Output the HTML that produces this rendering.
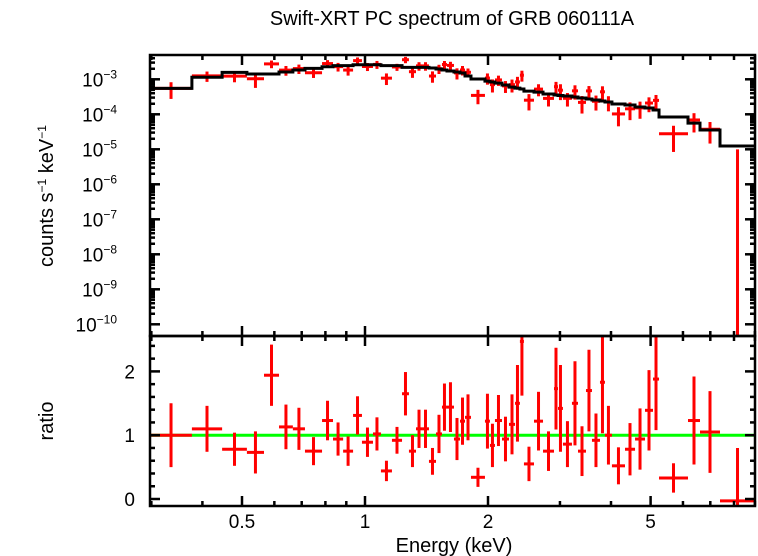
<!DOCTYPE html>
<html><head><meta charset="utf-8"><style>
html,body{margin:0;padding:0;background:#fff;}
svg{display:block;font-family:"Liberation Sans",sans-serif;}
</style></head><body>
<svg id="chart" width="758" height="556" viewBox="0 0 758 556" xmlns="http://www.w3.org/2000/svg">
<defs>
<clipPath id="clipTop"><rect x="150" y="55" width="605" height="281"/></clipPath>
<clipPath id="clipBot"><rect x="150" y="336" width="605" height="170"/></clipPath>
</defs>
<text x="452" y="25" font-size="20" text-anchor="middle">Swift-XRT PC spectrum of GRB 060111A</text>
<text x="454" y="552" font-size="20" text-anchor="middle">Energy (keV)</text>
<text transform="translate(53,196) rotate(-90)" font-size="20" text-anchor="middle">counts s<tspan dy="-7" font-size="12">−1</tspan><tspan dy="7"> keV</tspan><tspan dy="-7" font-size="12">−1</tspan></text>
<text transform="translate(53,421) rotate(-90)" font-size="20" text-anchor="middle">ratio</text>
<g id="gTop"></g>
<g id="gBot"></g>
<g id="gAxes"></g>
</svg>
<script>
const binEdges = [0.298,0.377,0.447,0.514,0.566,0.616,0.666,0.713,0.785,0.835,0.884,0.935,0.983,1.046,1.094,1.164,1.232,1.281,1.333,1.379,1.434,1.492,1.543,1.587,1.651,1.708,1.757,1.817,1.966,2.022,2.080,2.164,2.251,2.329,2.394,2.449,2.592,2.727,2.901,2.967,3.051,3.210,3.321,3.474,3.593,3.759,3.866,4.021,4.328,4.580,4.845,5.068,5.243,6.173,6.605,7.393,9.006];
const modelValues = [5.5e-4,1.14e-3,1.58e-3,1.42e-3,1.42e-3,1.62e-3,1.84e-3,2.06e-3,2.29e-3,2.45e-3,2.45e-3,2.61e-3,2.61e-3,2.61e-3,2.45e-3,2.45e-3,2.2e-3,2.2e-3,2.2e-3,2.2e-3,2.1e-3,1.97e-3,1.84e-3,1.73e-3,1.62e-3,1.51e-3,1.24e-3,1.02e-3,8.9e-4,8.4e-4,7.8e-4,6.9e-4,6.0e-4,5.6e-4,5.3e-4,4.6e-4,4.3e-4,3.8e-4,3.56e-4,3.44e-4,3.33e-4,3.12e-4,2.92e-4,2.74e-4,2.56e-4,2.4e-4,2.25e-4,1.97e-4,1.84e-4,1.62e-4,1.51e-4,1.33e-4,8.4e-5,5.6e-5,3.56e-5,1.24e-5];
const ratioValues = [1.0,1.1,0.78,0.73,1.94,1.13,1.1,0.75,1.23,0.94,0.75,1.31,0.89,1.02,0.44,0.92,1.65,0.75,1.1,1.1,0.59,1.02,1.44,1.44,0.94,1.22,1.28,0.34,1.22,0.84,1.23,0.94,1.17,1.5,2.47,0.55,1.22,0.75,1.73,1.42,0.86,1.5,0.75,1.7,0.92,1.83,1.0,0.52,0.78,0.94,1.39,1.88,0.33,1.23,1.05,-0.03];
const ratioErrors = [0.5,0.36,0.26,0.33,0.48,0.35,0.33,0.22,0.31,0.26,0.23,0.3,0.23,0.26,0.16,0.21,0.34,0.25,0.3,0.3,0.21,0.3,0.37,0.39,0.33,0.37,0.36,0.15,0.43,0.34,0.4,0.35,0.47,0.6,0.85,0.27,0.46,0.31,0.64,0.68,0.36,0.66,0.39,0.64,0.42,0.8,0.46,0.29,0.41,0.48,0.63,0.8,0.23,0.69,0.64,0.83];
const xMajorTicks = [0.5,1,2,5];
const xMajorLabels = ["0.5","1","2","5"];
const xMinorTicks = [0.3,0.4,0.6,0.7,0.8,0.9,3,4,6,7,8,9];
const yTopExponents = [-10,-9,-8,-7,-6,-5,-4,-3];
const yBotMajor = [0,1,2];
const yBotLabels = ["0","1","2"];

const NS="http://www.w3.org/2000/svg";
const L=150,R=755,TT=55,TB=336,BT=336,BB=506;
const xS=e=>365+408.6*Math.log10(e);
const yTopS=v=>79.3-35*(Math.log10(v)+3);
const yBotS=r=>499-63.8*r;
function mk(tag,attrs,parent){const el=document.createElementNS(NS,tag);for(const k in attrs)el.setAttribute(k,attrs[k]);parent.appendChild(el);return el;}
const gTopEl=document.getElementById('gTop'),gBotEl=document.getElementById('gBot'),gAx=document.getElementById('gAxes');
const topClip=mk('g',{'clip-path':'url(#clipTop)'},gTopEl);
const botClip=mk('g',{'clip-path':'url(#clipBot)'},gBotEl);

const gl=mk('line',{x1:L,x2:R,y1:yBotS(1),y2:yBotS(1),stroke:'#00ff00','stroke-width':3},botClip);



for(let i=0;i<ratioValues.length;i++){
  const x0=xS(binEdges[i]),x1=xS(binEdges[i+1]),xc=xS(Math.sqrt(binEdges[i]*binEdges[i+1]));
  const r=ratioValues[i],e=ratioErrors[i],m=modelValues[i];
  const gt=mk('g',{stroke:'#ff0000','stroke-width':3},topClip);
  
  
  const hi=m*(r+e);
  const lo=(r-e)>0?m*(r-e):null;
  mk('line',{x1:xc,x2:xc,y1:yTopS(hi),y2:lo?yTopS(lo):TB+5},gt);
  if(r>0){mk('line',{x1:x0,x2:x1,y1:yTopS(m*r),y2:yTopS(m*r)},gt);}
  const gb=mk('g',{stroke:'#ff0000','stroke-width':3},botClip);
  
  
  mk('line',{x1:xc,x2:xc,y1:yBotS(r+e),y2:yBotS(r-e)},gb);
  mk('line',{x1:x0,x2:x1,y1:yBotS(r),y2:yBotS(r)},gb);
}
let d='';
for(let i=0;i<modelValues.length;i++){
  const x0=xS(binEdges[i]),x1=xS(binEdges[i+1]),y=yTopS(modelValues[i]);
  d+=(i===0?'M':'L')+x0+','+y+'L'+x1+','+y;
}
const mp=mk('path',{d:d,fill:'none',stroke:'#000','stroke-width':3},topClip);



for(const [a,b] of [[TT,TB],[BT,BB]]){
  const f=mk('rect',{x:L,y:a,width:R-L,height:b-a,fill:'none',stroke:'#000','stroke-width':2.5},gAx);
  
  
}
function tick(x1,y1,x2,y2){mk('line',{x1,y1,x2,y2,stroke:'#000','stroke-width':2.5},gAx);}
for(const [a,b] of [[TT,TB],[BT,BB]]){
  xMajorTicks.forEach(v=>{const x=xS(v);tick(x,a,x,a+10);tick(x,b,x,b-10);});
  xMinorTicks.forEach(v=>{const x=xS(v);tick(x,a,x,a+5);tick(x,b,x,b-5);});
}
xMajorTicks.forEach((v,i)=>{
  const t=mk('text',{x:xS(v),y:528,'font-size':19,'text-anchor':'middle'},gAx);
  t.textContent=xMajorLabels[i];
  
  
});
yTopExponents.forEach(p=>{
  const y=yTopS(Math.pow(10,p));
  tick(L,y,L+10,y);tick(R,y,R-10,y);
  for(let k=2;k<=9;k++){const ym=yTopS(k*Math.pow(10,p));if(ym>TT){tick(L,ym,L+5,ym);tick(R,ym,R-5,ym);}}
  const t=mk('text',{x:117,y:y+7,'font-size':19,'text-anchor':'end'},gAx);
  t.textContent='10';
  const s=mk('tspan',{dy:-8,'font-size':12},t);s.textContent='−'+Math.abs(p);
  
  
});
for(let k=0;k<=12;k++){const v=k*0.2;const y=yBotS(v);if(y<BT)continue;const major=Math.abs(v-Math.round(v))<1e-6;const len=major?10:5;tick(L,y,L+len,y);tick(R,y,R-len,y);}
yBotMajor.forEach((v,i)=>{
  const t=mk('text',{x:135,y:yBotS(v)+7,'font-size':19,'text-anchor':'end'},gAx);
  t.textContent=yBotLabels[i];
  
  
});
</script>
</body></html>
